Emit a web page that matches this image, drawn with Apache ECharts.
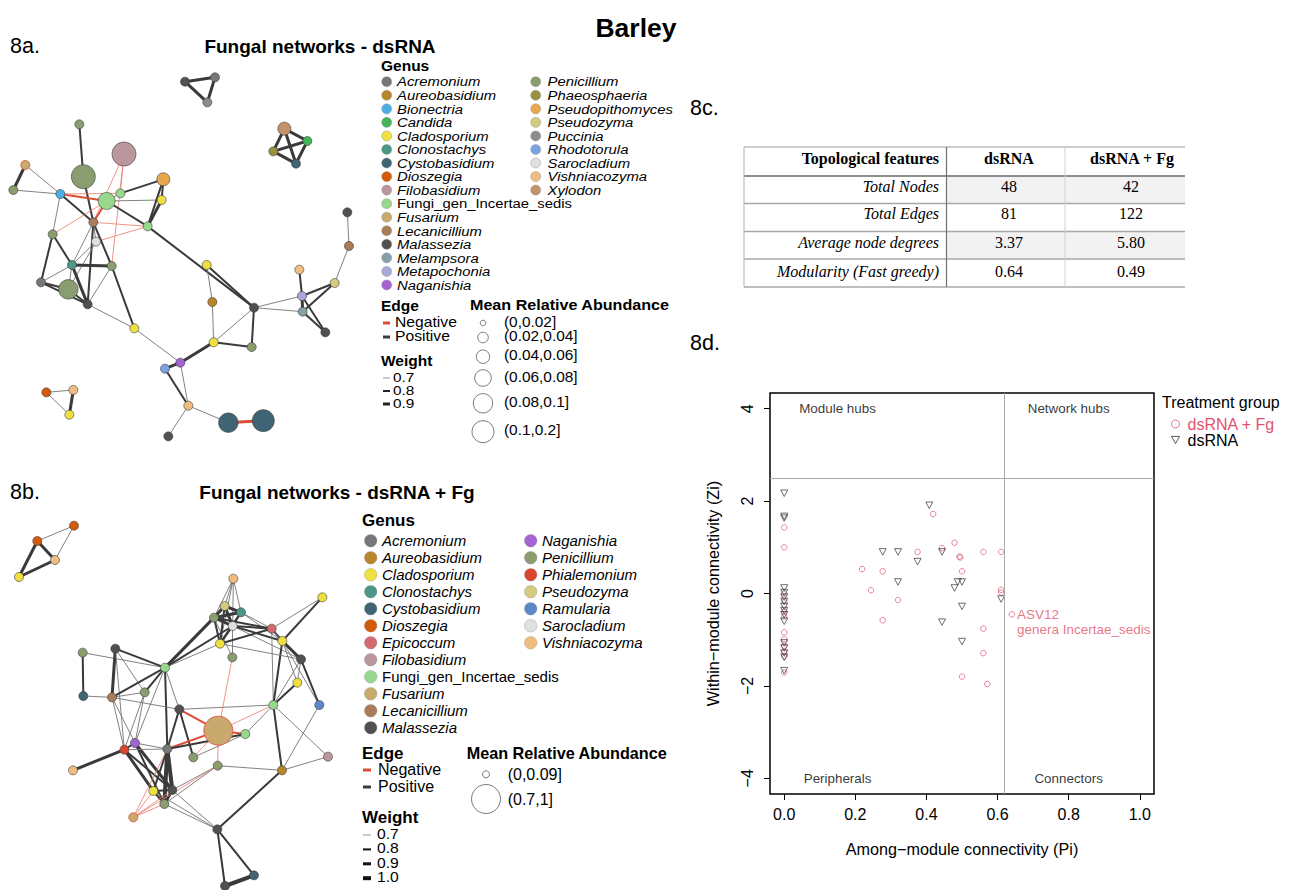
<!DOCTYPE html>
<html><head><meta charset="utf-8">
<script src="https://cdn.jsdelivr.net/npm/echarts@6/dist/echarts.min.js"></script>
<style>html,body{margin:0;padding:0;background:#fff}#c{width:1293px;height:890px}</style>
</head><body><div id="c"></div>
<script>
// ================= DATA =================
// --- 8a network (dsRNA): layout coordinates, genus, abundance class ---
const nodeA_x = [555,645,622, 853,922,820,888, 238,250,372,76,40,181,320,361,490,485,443,280,158,288,216,335,123,205,263,403,620,637,762,641,755,541,495,565,505,685,790,1042,1047,898,1004,906,908,976, 139,220,208];
const nodeA_y = [155,142,217, 296,333,364,401, 283,440,372,405,480,492,513,490,448,510,589,577,613,635,705,708,757,778,823,895,705,816,833,937,951,998,1016,1127,1219,1178,1172,547,648,719,759,798,845,907, 1087,1080,1154];
const nodeA_genus = ['Malassezia','Acremonium','Puccinia','Xylodon','Candida','Phaeosphaeria','Cystobasidium',
 'Penicillium','Penicillium','Filobasidium','Fusarium','Penicillium','Bionectria','Fungi_gen_Incertae_sedis','Fungi_gen_Incertae_sedis','Pseudopithomyces','Cladosporium','Fungi_gen_Incertae_sedis','Lecanicillium','Penicillium','Sarocladium','Clonostachys','Penicillium','Acremonium','Penicillium','Malassezia','Cladosporium','Cladosporium','Aureobasidium','Malassezia','Cladosporium','Penicillium','Naganishia','Rhodotorula','Vishniacozyma','Malassezia','Cystobasidium','Cystobasidium','Malassezia','Lecanicillium','Vishniacozyma','Pseudozyma','Metapochonia','Melampsora','Malassezia',
 'Dioszegia','Vishniacozyma','Cladosporium'];
const nodeA_abund = [0,0,0, 1,0,0,0, 0,5,5,0,0,0,2,0,1,0,0,0,0,0,0,0,0,3,0,0,0,0,0,0,0,0,0,0,0,3,4,0,0,0,0,0,0,0, 0,0,0];
// edges: [source, target, weight, sign]
const edgesA = [
 [0,1,0.9,1],[1,2,0.9,1],[0,2,0.9,1],
 [3,4,0.9,1],[3,5,0.9,1],[3,6,0.9,1],[4,5,0.9,1],[4,6,0.9,1],[5,6,0.9,1],
 [7,8,0.8,1],[8,18,0.8,1],[9,18,0.7,-1],[9,22,0.7,-1],[9,14,0.7,-1],
 [10,11,0.9,1],[10,12,0.7,1],[11,12,0.7,1],[12,13,0.8,-1],[12,14,0.7,-1],[12,18,0.8,1],[12,19,0.7,1],
 [13,14,0.7,1],[13,16,0.7,1],[13,17,0.8,1],[13,18,0.8,-1],[19,13,0.7,-1],
 [14,15,0.8,1],[15,16,0.8,1],[15,17,0.8,1],[16,17,0.9,1],[18,17,0.7,-1],[20,17,0.7,-1],
 [18,20,0.7,1],[18,22,0.8,1],[18,25,0.8,1],[18,21,0.7,1],[19,21,0.8,1],[19,23,0.8,1],
 [20,21,0.7,1],[20,24,0.7,1],[21,22,0.9,1],[21,23,0.7,1],[21,25,0.9,1],[21,24,0.7,1],
 [22,25,0.7,1],[22,26,0.8,1],[23,24,0.8,1],[23,25,0.8,1],[24,25,0.8,1],[25,26,0.7,1],[26,32,0.7,1],
 [17,29,0.8,1],[27,28,0.7,1],[27,29,0.8,1],[28,30,0.7,1],[29,30,0.7,1],[29,31,0.8,1],[30,31,0.8,1],
 [30,32,0.9,1],[32,33,0.9,1],[32,34,0.7,1],[33,34,0.8,1],[34,35,0.7,1],[34,36,0.7,1],[36,37,0.9,-1],
 [29,42,0.7,1],[29,43,0.7,1],[38,39,0.7,1],[39,41,0.7,1],[40,42,0.8,1],[41,42,0.8,1],[41,43,0.8,1],
 [42,43,0.9,1],[42,44,0.8,1],[43,44,0.8,1],
 [45,46,0.7,1],[45,47,0.7,1],[46,47,0.9,1]
];
// --- 8b network (dsRNA + Fg) ---
const nodeB_x = [222,112,165,57, 700,674,723,642,698,815,967,847,660,697,903,892,248,346,495,250,336,434,538,820,958,655,736,405,373,502,580,984,219,653,846,460,517,493,400,652,762,675];
const nodeB_y = [152,198,255,306, 311,393,412,428,453,461,367,498,506,547,553,623,533,521,578,663,667,652,703,690,690,767,777,804,824,822,847,845,886,872,886,948,945,987,1027,1063,1201,1233];
const nodeB_genus = ['Dioszegia','Dioszegia','Vishniacozyma','Cladosporium',
 'Vishniacozyma','Pseudozyma','Clonostachys','Penicillium','Sarocladium','Epicoccum','Cladosporium','Cladosporium','Cladosporium','Penicillium','Malassezia','Cladosporium','Penicillium','Malassezia','Fungi_gen_Incertae_sedis','Cystobasidium','Lecanicillium','Penicillium','Malassezia','Fungi_gen_Incertae_sedis','Ramularia','Fusarium','Fungi_gen_Incertae_sedis','Naganishia','Phialemonium','Acremonium','Penicillium','Filobasidium','Vishniacozyma','Penicillium','Aureobasidium','Cladosporium','Malassezia','Penicillium','Fusarium','Malassezia','Cystobasidium','Malassezia'];
const nodeB_abund = [0,0,0,0, 0,0,0,0,0,0,0,0,0,0,0,0,0,0,0,0,0,0,0,0,0,1,0,0,0,0,0,0,0,0,0,0,0,0,0,0,0,0];
const edgesB = [
 [0,1,0.7,1],[0,2,0.7,1],[1,2,0.9,1],[1,3,0.9,1],[2,3,0.9,1],
 [4,5,0.7,1],[4,6,0.7,1],[4,7,0.7,1],[4,8,0.7,1],[4,12,0.7,1],
 [5,7,0.9,1],[5,6,0.9,1],[5,8,0.9,1],[5,12,0.8,1],
 [6,7,0.9,1],[6,8,0.8,1],[6,9,0.7,1],[6,11,0.7,1],[6,12,0.8,1],
 [7,8,0.9,1],[7,12,0.8,1],[7,13,0.7,1],[7,18,0.9,1],[7,9,0.8,1],
 [8,9,0.8,1],[8,11,0.8,1],[8,12,0.8,1],[8,13,0.7,1],[8,14,0.7,1],[8,18,0.8,1],
 [9,11,0.8,1],[9,12,0.8,1],[9,10,0.7,1],[9,23,0.7,1],[9,14,0.7,1],
 [10,11,0.8,1],[11,14,0.9,1],[11,15,0.7,1],[11,23,0.8,1],[11,24,0.7,1],
 [12,14,0.7,1],[12,18,0.7,1],[13,25,0.7,-1],
 [14,23,0.7,1],[14,24,0.8,1],[14,15,0.7,1],[15,23,0.8,1],
 [16,19,0.8,1],[16,18,0.7,1],[17,18,0.8,1],[17,20,0.9,1],[17,21,0.7,1],[17,28,0.7,1],
 [18,20,0.8,1],[18,21,0.8,1],[18,29,0.8,1],[18,27,0.7,1],[18,22,0.7,1],[19,20,0.7,1],
 [20,21,0.7,1],[20,22,0.7,1],[20,28,0.7,1],[20,27,0.7,1],[21,27,0.7,1],[21,28,0.7,1],
 [22,23,0.7,1],[22,25,0.8,-1],[22,29,0.8,1],[22,30,0.8,1],
 [23,25,0.7,-1],[23,26,0.7,1],[23,34,0.8,1],[23,31,0.7,1],[24,34,0.7,1],
 [25,26,0.8,-1],[25,29,0.8,-1],[25,30,0.7,-1],[25,33,0.7,-1],[26,29,0.8,1],[26,30,0.7,1],
 [27,29,0.7,1],[27,28,0.8,1],[27,36,0.9,1],[27,37,0.8,1],
 [28,32,0.9,1],[28,35,0.9,1],[28,36,0.8,1],[28,29,0.7,1],
 [29,35,0.8,1],[29,36,1.0,1],[29,37,1.0,1],[31,34,0.7,1],
 [33,34,0.7,1],[33,37,0.7,1],[33,36,0.7,1],[34,39,0.8,1],
 [35,36,0.8,1],[35,37,0.8,1],[36,39,0.7,1],[37,39,0.7,1],[35,39,0.7,1],[36,37,0.9,1],
 [38,29,0.7,-1],[38,35,0.7,-1],[38,36,0.7,-1],[38,37,0.7,-1],[38,33,0.7,-1],
 [39,40,0.8,1],[39,41,0.8,1],[40,41,1.0,1]
];
// --- legends ---
const legendA_col1 = ['Acremonium','Aureobasidium','Bionectria','Candida','Cladosporium','Clonostachys','Cystobasidium','Dioszegia','Filobasidium','Fungi_gen_Incertae_sedis','Fusarium','Lecanicillium','Malassezia','Melampsora','Metapochonia','Naganishia'];
const legendA_col2 = ['Penicillium','Phaeosphaeria','Pseudopithomyces','Pseudozyma','Puccinia','Rhodotorula','Sarocladium','Vishniacozyma','Xylodon'];
const legendB_col1 = ['Acremonium','Aureobasidium','Cladosporium','Clonostachys','Cystobasidium','Dioszegia','Epicoccum','Filobasidium','Fungi_gen_Incertae_sedis','Fusarium','Lecanicillium','Malassezia'];
const legendB_col2 = ['Naganishia','Penicillium','Phialemonium','Pseudozyma','Ramularia','Sarocladium','Vishniacozyma'];
const abundLabelsA = ['(0,0.02]','(0.02,0.04]','(0.04,0.06]','(0.06,0.08]','(0.08,0.1]','(0.1,0.2]'];
const abundLabelsB = ['(0,0.09]','(0.7,1]'];
const weightLabelsA = ['0.7','0.8','0.9'];
const weightLabelsB = ['0.7','0.8','0.9','1.0'];
// --- 8c table ---
const tableHeader = ['Topological features','dsRNA','dsRNA + Fg'];
const tableRows = ['Total Nodes','Total Edges','Average node degrees','Modularity (Fast greedy)'];
const tableDsRNA = ['48','81','3.37','0.64'];
const tableDsRNAFg = ['42','122','5.80','0.49'];
// --- 8d scatter ---
const fgX = [0,0,0,0,0,0,0,0,0,0,0,0, 0.219,0.244,0.277,0.277,0.32,0.375,0.419,0.444,0.479,0.493,0.495,0.5,0.5,0.56,0.56,0.56,0.571,0.61,0.61,0.61,0.64];
const fgY = [1.43,1.0,0.0,-0.17,-0.39,-0.5,-0.84,-0.99,-1.13,-1.26,-1.36,-1.71, 0.53,0.07,0.48,-0.58,-0.14,0.9,1.72,0.98,1.1,0.8,0.78,0.48,-1.8,0.9,-0.76,-1.29,-1.96,0.9,0.08,0.02,-0.45];
const dsX = [0,0,0,0,0,0,0,0,0,0,0,0,0,0,0,0, 0.277,0.32,0.32,0.375,0.408,0.444,0.444,0.479,0.488,0.5,0.5,0.5,0.61];
const dsY = [2.17,1.67,1.63,0.12,0.02,-0.08,-0.17,-0.28,-0.37,-0.46,-0.6,-1.07,-1.18,-1.29,-1.38,-1.67, 0.9,0.9,0.25,0.69,1.91,0.9,-0.62,0.12,0.25,0.25,-0.28,-1.04,-0.12];
const xTicks = [0,0.2,0.4,0.6,0.8,1.0];
const yTicks = [-4,-2,0,2,4];
const quadNames = ['Module hubs','Network hubs','Peripherals','Connectors'];
const quadX = [0.15,0.80,0.15,0.80];
const quadY = [4,4,-4,-4];
const ziThreshold = 2.5, piThreshold = 0.62;

// ================= STYLE =================
const genusColor = {
 Acremonium:'#777777', Aureobasidium:'#B8862A', Bionectria:'#4DAEE6', Candida:'#44B45A', Cladosporium:'#EEE040',
 Clonostachys:'#4A9788', Cystobasidium:'#3F6473', Dioszegia:'#D35A08', Epicoccum:'#D26A6E', Filobasidium:'#BB969C',
 Fungi_gen_Incertae_sedis:'#98D88C', Fusarium:'#C8AA6E', Lecanicillium:'#A97C5A', Malassezia:'#505050',
 Melampsora:'#87A0A8', Metapochonia:'#A9A9DD', Naganishia:'#A564D3', Penicillium:'#899D6F', Phaeosphaeria:'#9A9040',
 Phialemonium:'#D9462F', Pseudopithomyces:'#EAA64E', Pseudozyma:'#D4CA80', Puccinia:'#8C8C8C', Ramularia:'#5B88C9',
 Rhodotorula:'#79A2E2', Sarocladium:'#E0E0E0', Vishniacozyma:'#F0BD80', Xylodon:'#C39268'
};
const abundSizeA = [9,13,17,19.5,22,24];
const abundSizeB = [9,29];
const wWidth = w => w >= 1.0 ? 4 : w >= 0.9 ? 3 : w >= 0.8 ? 2 : 1;
const SANS = '"Liberation Sans", Arial, sans-serif';
const SERIF = '"Liberation Serif", "Times New Roman", serif';
const RED = '#DF536B';

function edgeStyle(w, s){
  const width = wWidth(w);
  if (s < 0) return {width: width === 1 ? 0.8 : width, color: width === 1 ? '#EC7A68' : '#DC4C36', opacity: 1, curveness: 0};
  return {width: width === 1 ? 0.9 : width, color: width === 1 ? '#747474' : '#3A3A3A', opacity: 1, curveness: 0};
}
function buildNodes(xs, ys, gs, ab, sizes, redBorder){
  return xs.map((x,i)=>({value:[x, ys[i]], symbolSize: sizes[ab[i]],
    itemStyle:{color: genusColor[gs[i]], borderColor: redBorder.includes(i) ? '#E0604A' : '#3A3A3A', borderWidth: redBorder.includes(i) ? 1 : 0.6, opacity:1}}));
}
function buildLinks(edges){
  return edges.map(e=>({source:e[0], target:e[1], lineStyle: edgeStyle(e[2], e[3])}));
}

// graphic helpers
function T(x,y,text,font,fill,align,va,sx){
  const o = {type:'text', x:x, y:y, silent:true, style:{text:text, font:font, fill:fill||'#000',
    textAlign:align||'left', align:align||'left', textVerticalAlign:va||'middle', verticalAlign:va||'middle'}};
  if (sx) o.scaleX = sx;
  return o;
}
function C(cx,cy,r,fill,stroke,lw){ return {type:'circle', silent:true, shape:{cx:cx,cy:cy,r:r}, style:{fill:fill, stroke:stroke||'#444', lineWidth:lw||0.6}}; }
function L(x1,y1,x2,y2,stroke,lw){ return {type:'line', silent:true, shape:{x1:x1,y1:y1,x2:x2,y2:y2}, style:{stroke:stroke, lineWidth:lw}}; }
function R(x,y,w,h,fill){ return {type:'rect', silent:true, shape:{x:x,y:y,width:w,height:h}, style:{fill:fill}}; }

const G = [];
// titles
G.push(T(636, 28, 'Barley', 'bold 26.5px '+SANS, '#000', 'center'));
G.push(T(10, 46, '8a.', '21.5px '+SANS));
G.push(T(320, 46, 'Fungal networks - dsRNA', 'bold 19px '+SANS, '#000', 'center'));
G.push(T(10, 492, '8b.', '21.5px '+SANS));
G.push(T(337, 492, 'Fungal networks - dsRNA + Fg', 'bold 19px '+SANS, '#000', 'center'));
G.push(T(690, 108, '8c.', '21.5px '+SANS));
G.push(T(690, 343, '8d.', '21.5px '+SANS));

// legend 8a
G.push(T(381, 65, 'Genus', 'bold 15.5px '+SANS));
legendA_col1.forEach((g,i)=>{ const y = 81.7 + i*13.55;
  G.push(C(386.7, y, 5, genusColor[g], '#888', 0.4));
  G.push(T(397, y, g, (g.startsWith('Fungi_') ? '' : 'italic ') + '13.5px '+SANS, '#000', 'left', 'middle', 1.1)); });
legendA_col2.forEach((g,i)=>{ const y = 81.7 + i*13.55;
  G.push(C(535.7, y, 5, genusColor[g], '#888', 0.4));
  G.push(T(547.5, y, g, 'italic 13.5px '+SANS, '#000', 'left', 'middle', 1.1)); });
G.push(T(381, 305, 'Edge', 'bold 15.5px '+SANS));
G.push(L(383, 323, 390, 323, '#DC4C36', 3)); G.push(T(395, 322, 'Negative', '14px '+SANS, '#000', 'left', 'middle', 1.12));
G.push(L(383, 337, 390, 337, '#3C3C3C', 3)); G.push(T(395, 336, 'Positive', '14px '+SANS, '#000', 'left', 'middle', 1.12));
G.push(T(381, 360, 'Weight', 'bold 15.5px '+SANS));
weightLabelsA.forEach((w,i)=>{ const y = [378,391,404][i];
  G.push(L(383, y, 390, y, i===0 ? '#999' : '#222', wWidth(parseFloat(w))));
  G.push(T(393, y-1, w, '12.8px '+SANS, '#000', 'left', 'middle', 1.2)); });
G.push(T(470, 305, 'Mean Relative Abundance', 'bold 15.5px '+SANS, '#000', 'left', 'middle', 1.04));
abundLabelsA.forEach((a,i)=>{ const y = [323,337.5,356.7,378,403.3,431.7][i];
  G.push(C(483, y, [2.8,5.3,6.7,8.3,9.7,11][i], '#fff', '#444', 0.7));
  G.push(T(504, y-1, a, '14px '+SANS, '#000', 'left', 'middle', 1.1)); });

// legend 8b
G.push(T(362, 520, 'Genus', 'bold 17px '+SANS));
legendB_col1.forEach((g,i)=>{ const y = 540.7 + i*17;
  G.push(C(370.7, y, 6.3, genusColor[g], '#999', 0.4));
  G.push(T(382, y, g, (g.startsWith('Fungi_') ? '' : 'italic ') + '15px '+SANS)); });
legendB_col2.forEach((g,i)=>{ const y = 540.7 + i*17;
  G.push(C(530.7, y, 6.3, genusColor[g], '#999', 0.4));
  G.push(T(542, y, g, 'italic 15px '+SANS)); });
G.push(T(362, 753, 'Edge', 'bold 17px '+SANS));
G.push(L(363, 770, 371, 770, '#DC4C36', 3)); G.push(T(378, 769, 'Negative', '16px '+SANS));
G.push(L(363, 787, 371, 787, '#3C3C3C', 3)); G.push(T(378, 786, 'Positive', '16px '+SANS));
G.push(T(362, 817, 'Weight', 'bold 17px '+SANS));
weightLabelsB.forEach((w,i)=>{ const y = 835 + i*14.4;
  G.push(L(363, y, 371, y, i===0 ? '#999' : '#111', wWidth(parseFloat(w))));
  G.push(T(377, y-1, w, '14px '+SANS, '#000', 'left', 'middle', 1.12)); });
G.push(T(466.7, 753, 'Mean Relative Abundance', 'bold 16.2px '+SANS));
abundLabelsB.forEach((a,i)=>{ const y = [774.3,799][i];
  G.push(C(486, y, [3.5,14.5][i], '#fff', '#444', 0.7));
  G.push(T(507.7, y, a, '16px '+SANS)); });

// table 8c
(function(){
  const xL = 744, xC1 = 946.5, xC2 = 1065, xR = 1185;
  const yB = [147,176,203.5,231.5,259,287];
  [0,2].forEach(r=>G.push(R(xC1, yB[r+1], xR-xC1, yB[r+2]-yB[r+1], '#F2F2F2')));
  G.push(L(xL, yB[0], xR, yB[0], '#9A9A9A', 1));
  G.push(L(xL, yB[1], xR, yB[1], '#6A6A6A', 1.6));
  for (let r=2;r<5;r++) G.push(L(xL, yB[r], xR, yB[r], '#A8A8A8', 1.4));
  G.push(L(xL, yB[5], xR, yB[5], '#A8A8A8', 1.4));
  G.push(L(xL, yB[0], xL, yB[5], '#B0B0B0', 1));
  G.push(L(xC1, yB[0], xC1, yB[5], '#707070', 1.2));
  G.push(L(xC2, yB[0], xC2, yB[5], '#D0D0D0', 1));
  G.push(T(939, 158, tableHeader[0], 'bold 16px '+SERIF, '#000', 'right'));
  G.push(T(1009, 158, tableHeader[1], 'bold 16px '+SERIF, '#000', 'center'));
  G.push(T(1132, 158, tableHeader[2], 'bold 16px '+SERIF, '#000', 'center'));
  const ty = [186.7,213.3,242.3,271];
  tableRows.forEach((r,i)=>{
    G.push(T(939, ty[i], r, 'italic 16px '+SERIF, '#000', 'right'));
    G.push(T(1009, ty[i], tableDsRNA[i], '16px '+SERIF, '#000', 'center'));
    G.push(T(1131, ty[i], tableDsRNAFg[i], '16px '+SERIF, '#000', 'center'));
  });
})();

// scatter legend title
G.push(T(1162, 402, 'Treatment group', '16px '+SANS));

const minus = v => v < 0 ? '\u2212' + Math.abs(v) : String(v);

const fgData = fgX.map((x,i)=>{
  const d = {value:[x, fgY[i]]};
  if (x === 0.64) d.label = {show:true, position:'right', distance:2, offset:[0,7.5],
     formatter:'ASV12\ngenera Incertae_sedis', color:RED, fontSize:13.5, lineHeight:15.5, fontFamily:SANS, align:'left'};
  return d;
});

const option = {
  animation:false,
  backgroundColor:'#fff',
  grid:[
    {left:0, top:30, width:380, height:420, show:false},
    {left:0, top:475, width:360, height:415, show:false},
    {left:770, top:393, right:139, bottom:96, show:true, borderColor:'#000', borderWidth:1.5, backgroundColor:'transparent'}
  ],
  xAxis:[
    {gridIndex:0, type:'value', min:0, max:1140, show:false},
    {gridIndex:1, type:'value', min:0, max:1080, show:false},
    {gridIndex:2, type:'value', min:-0.04, max:1.04,
     axisLine:{show:false, onZero:false}, splitLine:{show:false},
     axisTick:{show:true, inside:false, length:6, customValues:xTicks, lineStyle:{color:'#000', width:1}},
     axisLabel:{customValues:xTicks, formatter:v=>v.toFixed(1), fontSize:16, color:'#000', margin:12, fontFamily:SANS},
     name:'Among\u2212module connectivity (Pi)', nameLocation:'middle', nameGap:47,
     nameTextStyle:{fontSize:16.2, color:'#000', fontFamily:SANS}}
  ],
  yAxis:[
    {gridIndex:0, type:'value', min:0, max:1260, inverse:true, show:false},
    {gridIndex:1, type:'value', min:0, max:1245, inverse:true, show:false},
    {gridIndex:2, type:'value', min:-4.34, max:4.34,
     axisLine:{show:false, onZero:false}, splitLine:{show:false},
     axisTick:{show:true, inside:false, length:6, customValues:yTicks, lineStyle:{color:'#000', width:1}},
     axisLabel:{customValues:yTicks, formatter:minus, rotate:90, fontSize:16, color:'#000', margin:15, fontFamily:SANS},
     name:'Within\u2212module connectivity (Zi)', nameLocation:'middle', nameGap:49, nameRotate:90,
     nameTextStyle:{fontSize:16.2, color:'#000', fontFamily:SANS}}
  ],
  legend:{
    left:1166, top:411, orient:'vertical', itemWidth:8, itemHeight:8, itemGap:0,
    textStyle:{fontSize:16, fontFamily:SANS, color:'#000', padding:[0,0,0,3]},
    data:[
      {name:'dsRNA + Fg', icon:'circle', itemStyle:{color:'transparent', borderColor:RED, borderWidth:1}, textStyle:{color:RED}},
      {name:'dsRNA', icon:'path://M0,0L10,0L5,9Z', itemStyle:{color:'transparent', borderColor:'#333', borderWidth:1}}
    ]
  },
  graphic:{elements:G},
  series:[
    {type:'graph', name:'netA', coordinateSystem:'cartesian2d', xAxisIndex:0, yAxisIndex:0, silent:true,
     data: buildNodes(nodeA_x, nodeA_y, nodeA_genus, nodeA_abund, abundSizeA, [10]),
     links: buildLinks(edgesA), label:{show:false}, z:3},
    {type:'graph', name:'netB', coordinateSystem:'cartesian2d', xAxisIndex:1, yAxisIndex:1, silent:true,
     data: buildNodes(nodeB_x, nodeB_y, nodeB_genus, nodeB_abund, abundSizeB, [25,38]),
     links: buildLinks(edgesB), label:{show:false}, z:3},
    {type:'scatter', name:'quadrants', xAxisIndex:2, yAxisIndex:2, silent:true, symbolSize:0,
     data: quadNames.map((n,i)=>({name:n, value:[quadX[i], quadY[i]]})),
     label:{show:true, position:'inside', formatter:'{b}', color:'#000', fontSize:13.4, fontFamily:SANS},
     markLine:{silent:true, symbol:['none','none'], label:{show:false},
       lineStyle:{color:'#A8A8A8', width:1, type:'solid'},
       data:[{yAxis:ziThreshold},{xAxis:piThreshold}]}},
    {type:'scatter', name:'dsRNA + Fg', xAxisIndex:2, yAxisIndex:2, symbol:'circle', symbolSize:5.5,
     itemStyle:{color:'transparent', borderColor:RED, borderWidth:0.9}, data: fgData, z:4},
    {type:'scatter', name:'dsRNA', xAxisIndex:2, yAxisIndex:2, symbol:'triangle', symbolRotate:180, symbolSize:[7,6.5],
     itemStyle:{color:'transparent', borderColor:'#333', borderWidth:0.9}, data: dsX.map((x,i)=>[x, dsY[i]]), z:4}
  ]
};
const chart = echarts.init(document.getElementById('c'), null, {renderer:'svg', width:1293, height:890});
chart.setOption(option);
</script>
</body></html>
